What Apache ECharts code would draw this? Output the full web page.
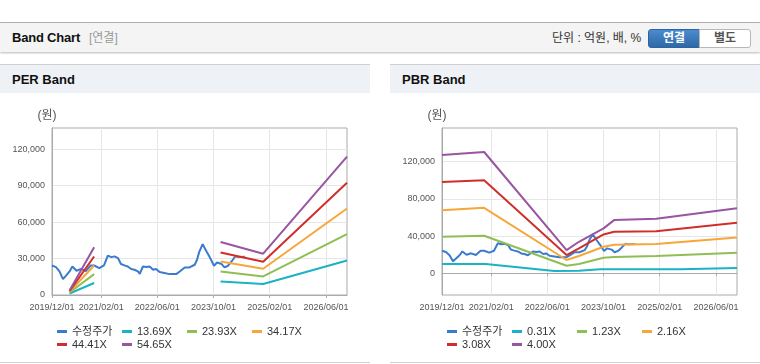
<!DOCTYPE html>
<html><head><meta charset="utf-8">
<script src="https://cdn.jsdelivr.net/npm/echarts@6/dist/echarts.min.js"></script>
<style>
html,body{margin:0;padding:0;width:760px;height:364px;overflow:hidden;background:#fff;font-family:'Liberation Sans',Arial,'Noto Sans CJK KR',sans-serif;}
.topline{position:absolute;left:0;top:22px;width:760px;height:1px;background:#b4b4b4;}
.hdr{position:absolute;left:0;top:23px;width:760px;height:29px;background:#f4f4f4;box-shadow:0 1px 2px rgba(0,0,0,0.28);}
.hdr .t{position:absolute;left:12px;top:0;line-height:30px;font-size:13px;font-weight:bold;color:#111;letter-spacing:-0.2px;}
.hdr .s{position:absolute;left:89px;top:0;line-height:30px;font-size:12px;color:#999;}
.hdr .u{position:absolute;left:552px;top:0;line-height:30px;font-size:12px;color:#333;}
.b1{position:absolute;left:648px;top:6px;width:52px;height:19px;box-sizing:border-box;background:linear-gradient(#4b8bd0,#2e68a6);border:1px solid #2c64a0;border-radius:3px 0 0 3px;color:#fff;font-weight:bold;font-size:12px;text-align:center;line-height:17px;}
.b2{position:absolute;left:699px;top:6px;width:52px;height:19px;box-sizing:border-box;background:#fff;border:1px solid #b8b8b8;border-radius:0 3px 3px 0;color:#555;font-weight:bold;font-size:12px;text-align:center;line-height:17px;}
.ph{position:absolute;top:64px;height:28px;background:#eef2f7;border-top:1px solid #cfcfcf;}
.ph span{position:absolute;left:12px;top:0;line-height:30px;font-size:13px;font-weight:bold;color:#111;}
.pb{position:absolute;top:362px;height:1px;background:#d2d2d2;}
#chart{position:absolute;left:0;top:0;width:760px;height:364px;}
</style></head>
<body>
<div class="topline"></div>
<div class="hdr"><span class="t">Band Chart</span><span class="s">[연결]</span><span class="u">단위 : 억원, 배, %</span><div class="b1">연결</div><div class="b2">별도</div></div>
<div class="ph" style="left:0;width:370px;"><span>PER Band</span></div>
<div class="ph" style="left:390px;width:370px;"><span>PBR Band</span></div>
<div class="pb" style="left:0;width:370px;"></div>
<div class="pb" style="left:390px;width:370px;"></div>
<div id="chart"></div>
<script>
// ---- data ----
const xTickLabels = ['2019/12/01','2021/02/01','2022/06/01','2023/10/01','2025/02/01','2026/06/01'];
const axisStart = '2019/12/01';
const axisEnd = '2026/12/01';
const perYTicks = [0, 30000, 60000, 90000, 120000];
const pbrYTicks = [0, 40000, 80000, 120000];

const priceDates = ['2019/12/01','2020/01/05','2020/02/05','2020/03/05','2020/04/01','2020/05/01','2020/05/25','2020/07/01','2020/08/10','2020/09/20','2020/11/01','2020/12/01','2021/01/15','2021/02/25','2021/03/28','2021/04/28','2021/05/25','2021/06/25','2021/07/20','2021/08/20','2021/09/18','2021/10/18','2021/11/15','2021/12/15','2022/01/01','2022/01/28','2022/02/28','2022/03/25','2022/04/25','2022/05/20','2022/06/20','2022/08/01','2022/09/15','2022/11/12','2022/12/12','2023/01/25','2023/03/05','2023/04/20','2023/05/10','2023/05/28','2023/06/28','2023/08/01','2023/08/28','2023/10/05','2023/11/01','2023/12/10','2024/01/05','2024/02/05','2024/03/05','2024/04/05'];
const priceValues = [24300,23000,19400,13100,15900,19400,23500,20000,21500,19700,24300,24300,22200,24300,32400,31200,31800,30400,25500,24400,23500,21400,20800,19400,17500,23500,23000,23500,20800,21400,18900,18100,17200,17200,19400,22700,22700,24900,29000,35300,41900,35800,31200,24100,26800,25500,22700,24100,27600,31700];
const tailDates = ['2024/04/05','2024/05/01','2024/07/01'];
const tailValues = [31700,31200,31500];

// PER band: two segments
const perSeg1Dates = ['2020/05/01','2020/12/01'];
const perSeg2Dates = ['2023/12/01','2024/12/05','2026/12/01'];
const perNames = ['13.69X','23.93X','34.17X','44.41X','54.65X'];
const per1369 = [[1200, 9900], [11200, 9000, 28400]];
const per2393 = [[2100, 17200], [19400, 15300, 50100]];
const per3417 = [[2700, 24300], [27600, 21600, 71200]];
const per4441 = [[3200, 31700], [35000, 27400, 92500]];
const per5465 = [[3800, 39400], [43600, 34000, 113900]];

// PBR band
const pbrNames = ['0.31X','1.23X','2.16X','3.08X','4.00X'];
const pbrDates = ['2019/12/01','2020/12/01','2022/11/15','2023/03/01','2023/10/01','2024/01/01','2025/01/01','2026/12/01'];
const pbr031Dates = ['2019/12/01','2020/12/15','2022/08/01','2023/03/01','2023/09/01','2025/08/01','2025/08/15','2026/12/01'];
const pbr031 = [10000, 10000, 2600, 2700, 4500, 4500, 5700, 5700];
const pbr123 = [39300, 40400, 8200, 10000, 16700, 17500, 18600, 22100];
const pbr216 = [67900, 70400, 14300, 18600, 28500, 30800, 31400, 38600];
const pbr308 = [98200, 100000, 19600, 26800, 41800, 44600, 45300, 54300];
const pbr400 = [127200, 130400, 25000, 33900, 48300, 57200, 58600, 70000];

const colors = {price:'#3a7bd0', c1:'#1ab3c4', c2:'#8fbe55', c3:'#f6a73a', c4:'#cf2f2a', c5:'#9855a0', tail:'#8a8a8a'};
// ---- build ----
function toM(s){const p=s.split('/').map(Number);return (p[0]-2019)*12+(p[1]-12)+(p[2]-1)/30;}
const xTicks = xTickLabels.map(toM);
function pairs(dates, vals){return dates.map((d,i)=>[toM(d), vals[i]]);}
function perPairs(arr){return pairs(perSeg1Dates, arr[0]).concat([[toM('2022/06/01'),'-']], pairs(perSeg2Dates, arr[1]));}

const axisFont = "'Liberation Sans',Arial,sans-serif";
function xAxis(gi){return {type:'value', gridIndex:gi, min:toM(axisStart), max:toM(axisEnd),
  axisLine:{show:true,lineStyle:{color:'#aaa'}},
  axisTick:{show:true,length:3,lineStyle:{color:'#aaa'},customValues:xTicks},
  axisLabel:{customValues:xTicks, showMinLabel:true, hideOverlap:false, margin:8, color:'#555', fontSize:9, fontFamily:axisFont,
    formatter:(v)=>{let best=xTickLabels[0],bd=1e9;xTicks.forEach((t,i)=>{if(Math.abs(t-v)<bd){bd=Math.abs(t-v);best=xTickLabels[i];}});return best;}},
  splitLine:{show:true,lineStyle:{color:'#e6e6e6'}}};}
function yAxis(gi,min,max,ticks){return {type:'value', gridIndex:gi, min:min, max:max,
  name:'(원)', nameLocation:'end', nameGap:6, nameTextStyle:{color:'#555',fontSize:12,padding:[0,10,0,0],fontFamily:"'Liberation Sans','Noto Sans CJK KR',sans-serif"},
  axisLine:{show:true,lineStyle:{color:'#aaa'}},
  axisTick:{show:false,customValues:ticks},
  axisLabel:{customValues:ticks, margin:7, color:'#555', fontSize:9, fontFamily:axisFont,
    formatter:(v)=>v.toLocaleString('en-US')},
  splitLine:{show:true,lineStyle:{color:'#e6e6e6'}}};}
function line(name, data, color, xi){return {type:'line', name:name, xAxisIndex:xi, yAxisIndex:xi, data:data,
  showSymbol:false, symbol:'none', lineStyle:{width:2,color:color}, itemStyle:{color:color}, animation:false, connectNulls:false};}

const bandColors=[colors.c1,colors.c2,colors.c3,colors.c4,colors.c5];
const perBands=[per1369,per2393,per3417,per4441,per5465];
const pbrBands=[pbr031,pbr123,pbr216,pbr308,pbr400];
const series=[];
series.push(line('수정주가', pairs(priceDates,priceValues), colors.price, 0));
series.push(line('tail0', pairs(tailDates,tailValues), colors.tail, 0));
perBands.forEach((b,i)=>series.push(line(perNames[i], perPairs(b), bandColors[i], 0)));
series.push(line('수정주가', pairs(priceDates,priceValues), colors.price, 1));
series.push(line('tail1', pairs(tailDates,tailValues), colors.tail, 1));
pbrBands.forEach((b,i)=>series.push(line(pbrNames[i], pairs(i===0?pbr031Dates:pbrDates, b), bandColors[i], 1)));

function legend(left, names){return {left:left, top:320, width:265, itemGap:0, itemWidth:10, itemHeight:3, icon:'rect',
  data:['수정주가'].concat(names).map(n=>({name:n})),
  textStyle:{width:50, lineHeight:13, fontSize:11, color:'#333', fontFamily:"'Liberation Sans',Arial,'Noto Sans CJK KR',sans-serif"},
  selectedMode:false};}

const chart = echarts.init(document.getElementById('chart'), null, {renderer:'canvas'});
chart.setOption({
  backgroundColor:'transparent',
  animation:false,
  grid:[{left:52,top:128,width:295,height:167,show:true,borderColor:'#aaa',borderWidth:1,backgroundColor:'transparent'},
        {left:442,top:128,width:295,height:167,show:true,borderColor:'#aaa',borderWidth:1,backgroundColor:'transparent'}],
  xAxis:[xAxis(0),xAxis(1)],
  yAxis:[yAxis(0,0,137500,perYTicks), yAxis(1,-23300,156200,pbrYTicks)],
  legend:[legend(52,perNames), legend(442,pbrNames)],
  series:series
});
</script>
</body></html>
